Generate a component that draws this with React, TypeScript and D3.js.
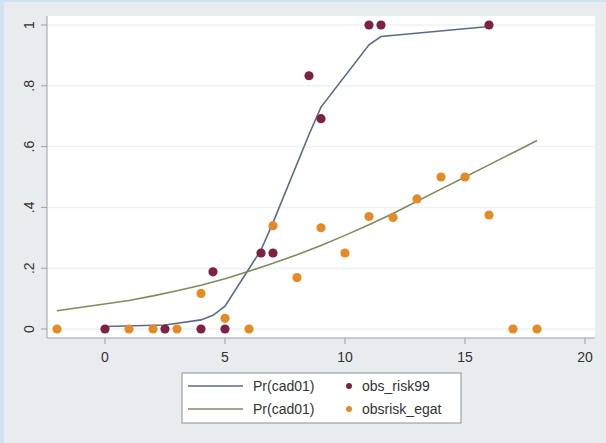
import * as d3 from "d3";

const W = 606;
const H = 443;

// observed risk, risk99 group
const riskX = [0, 2.5, 4, 4.5, 5, 6.5, 7, 8.5, 9, 11, 11.5, 16];
const riskY = [0, 0, 0, 0.188, 0, 0.25, 0.25, 0.833, 0.692, 1, 1, 1];
// fitted Pr(cad01) for risk99
const riskFit = [0.008, 0.013, 0.03, 0.045, 0.075, 0.26, 0.35, 0.64, 0.73, 0.935, 0.962, 0.995];

// observed risk, egat group
const egatX = [-2, 1, 2, 3, 4, 5, 6, 7, 8, 9, 10, 11, 12, 13, 14, 15, 16, 17, 18];
const egatY = [0, 0, 0, 0, 0.117, 0.035, 0, 0.34, 0.169, 0.333, 0.25, 0.37, 0.367, 0.428, 0.5, 0.5, 0.375, 0, 0];
// fitted Pr(cad01) for egat
const egatFit = [0.06, 0.094, 0.109, 0.126, 0.144, 0.165, 0.19, 0.216, 0.244, 0.275, 0.308, 0.343, 0.38, 0.42, 0.46, 0.5, 0.54, 0.58, 0.62];

const xTicks = [0, 5, 10, 15, 20];
const yTicks = [0, 0.2, 0.4, 0.6, 0.8, 1];
const yTickLabels = ["0", ".2", ".4", ".6", ".8", "1"];

const legendItems = [
  { line: "#5d6a85", label: "Pr(cad01)", dot: "#7c2345", dotLabel: "obs_risk99" },
  { line: "#7f8a5e", label: "Pr(cad01)", dot: "#e38b26", dotLabel: "obsrisk_egat" },
];

const FONT = "Liberation Sans, Arial, sans-serif";

export default function App() {
  const plot = { left: 47, right: 595, top: 16, bottom: 338 };
  const x = d3.scaleLinear().domain([0, 20]).range([105, 585]);
  const y = d3.scaleLinear().domain([0, 1]).range([329, 25]);

  const line = d3
    .line<[number, number]>()
    .x((d) => x(d[0]))
    .y((d) => y(d[1]));

  const riskLine = line(riskX.map((v, i) => [v, riskFit[i]]));
  const egatLine = line(egatX.map((v, i) => [v, egatFit[i]]));

  return (
    <svg
      width={W}
      height={H}
      style={{ position: "absolute", left: 0, top: 0 }}
      fontFamily={FONT}
    >
      <rect x={0} y={0} width={W} height={H} fill="#e8ecef" />
      <rect x={0} y={0} width={4} height={H} fill="#d3e2f3" />
      <rect x={0} y={0} width={W} height={2} fill="#d3e2f3" />

      {/* plot region */}
      <rect
        x={plot.left}
        y={plot.top}
        width={plot.right - plot.left}
        height={plot.bottom - plot.top}
        fill="#ffffff"
      />
      {yTicks.map((t) => (
        <line
          key={"g" + t}
          x1={plot.left}
          x2={plot.right}
          y1={y(t)}
          y2={y(t)}
          stroke="#eef1f3"
          strokeWidth={1.5}
        />
      ))}

      {/* axes */}
      <line x1={plot.left} x2={plot.left} y1={plot.top} y2={plot.bottom} stroke="#9aa0a6" />
      <line x1={plot.left} x2={plot.right} y1={plot.bottom} y2={plot.bottom} stroke="#9aa0a6" />
      {yTicks.map((t, i) => (
        <g key={"y" + t}>
          <line x1={plot.left - 6} x2={plot.left} y1={y(t)} y2={y(t)} stroke="#9aa0a6" />
          <text
            transform={`translate(34,${y(t)}) rotate(-90)`}
            textAnchor="middle"
            fontSize={14}
            fill="#333"
          >
            {yTickLabels[i]}
          </text>
        </g>
      ))}
      {xTicks.map((t) => (
        <g key={"x" + t}>
          <line x1={x(t)} x2={x(t)} y1={plot.bottom} y2={plot.bottom + 6} stroke="#9aa0a6" />
          <text x={x(t)} y={362} textAnchor="middle" fontSize={14} fill="#333">
            {t}
          </text>
        </g>
      ))}

      {/* fitted lines */}
      <path d={riskLine ?? ""} fill="none" stroke="#5d6a85" strokeWidth={1.6} />
      <path d={egatLine ?? ""} fill="none" stroke="#7f8a5e" strokeWidth={1.6} />

      {/* observed points */}
      {riskX.map((v, i) => (
        <circle key={"r" + i} cx={x(v)} cy={y(riskY[i])} r={4.6} fill="#7c2345" />
      ))}
      {egatX.map((v, i) => (
        <circle key={"e" + i} cx={x(v)} cy={y(egatY[i])} r={4.6} fill="#e38b26" />
      ))}

      {/* legend */}
      <rect x={182} y={373} width={279} height={50} fill="#ffffff" stroke="#8c9096" />
      {legendItems.map((d, i) => {
        const ly = 386 + i * 23;
        return (
          <g key={"l" + i}>
            <line x1={188} x2={243} y1={ly} y2={ly} stroke={d.line} strokeWidth={1.6} />
            <text x={253} y={ly + 5} fontSize={14} fill="#333">
              {d.label}
            </text>
            <circle cx={349} cy={ly} r={3} fill={d.dot} />
            <text x={362} y={ly + 5} fontSize={14} fill="#333">
              {d.dotLabel}
            </text>
          </g>
        );
      })}
    </svg>
  );
}
